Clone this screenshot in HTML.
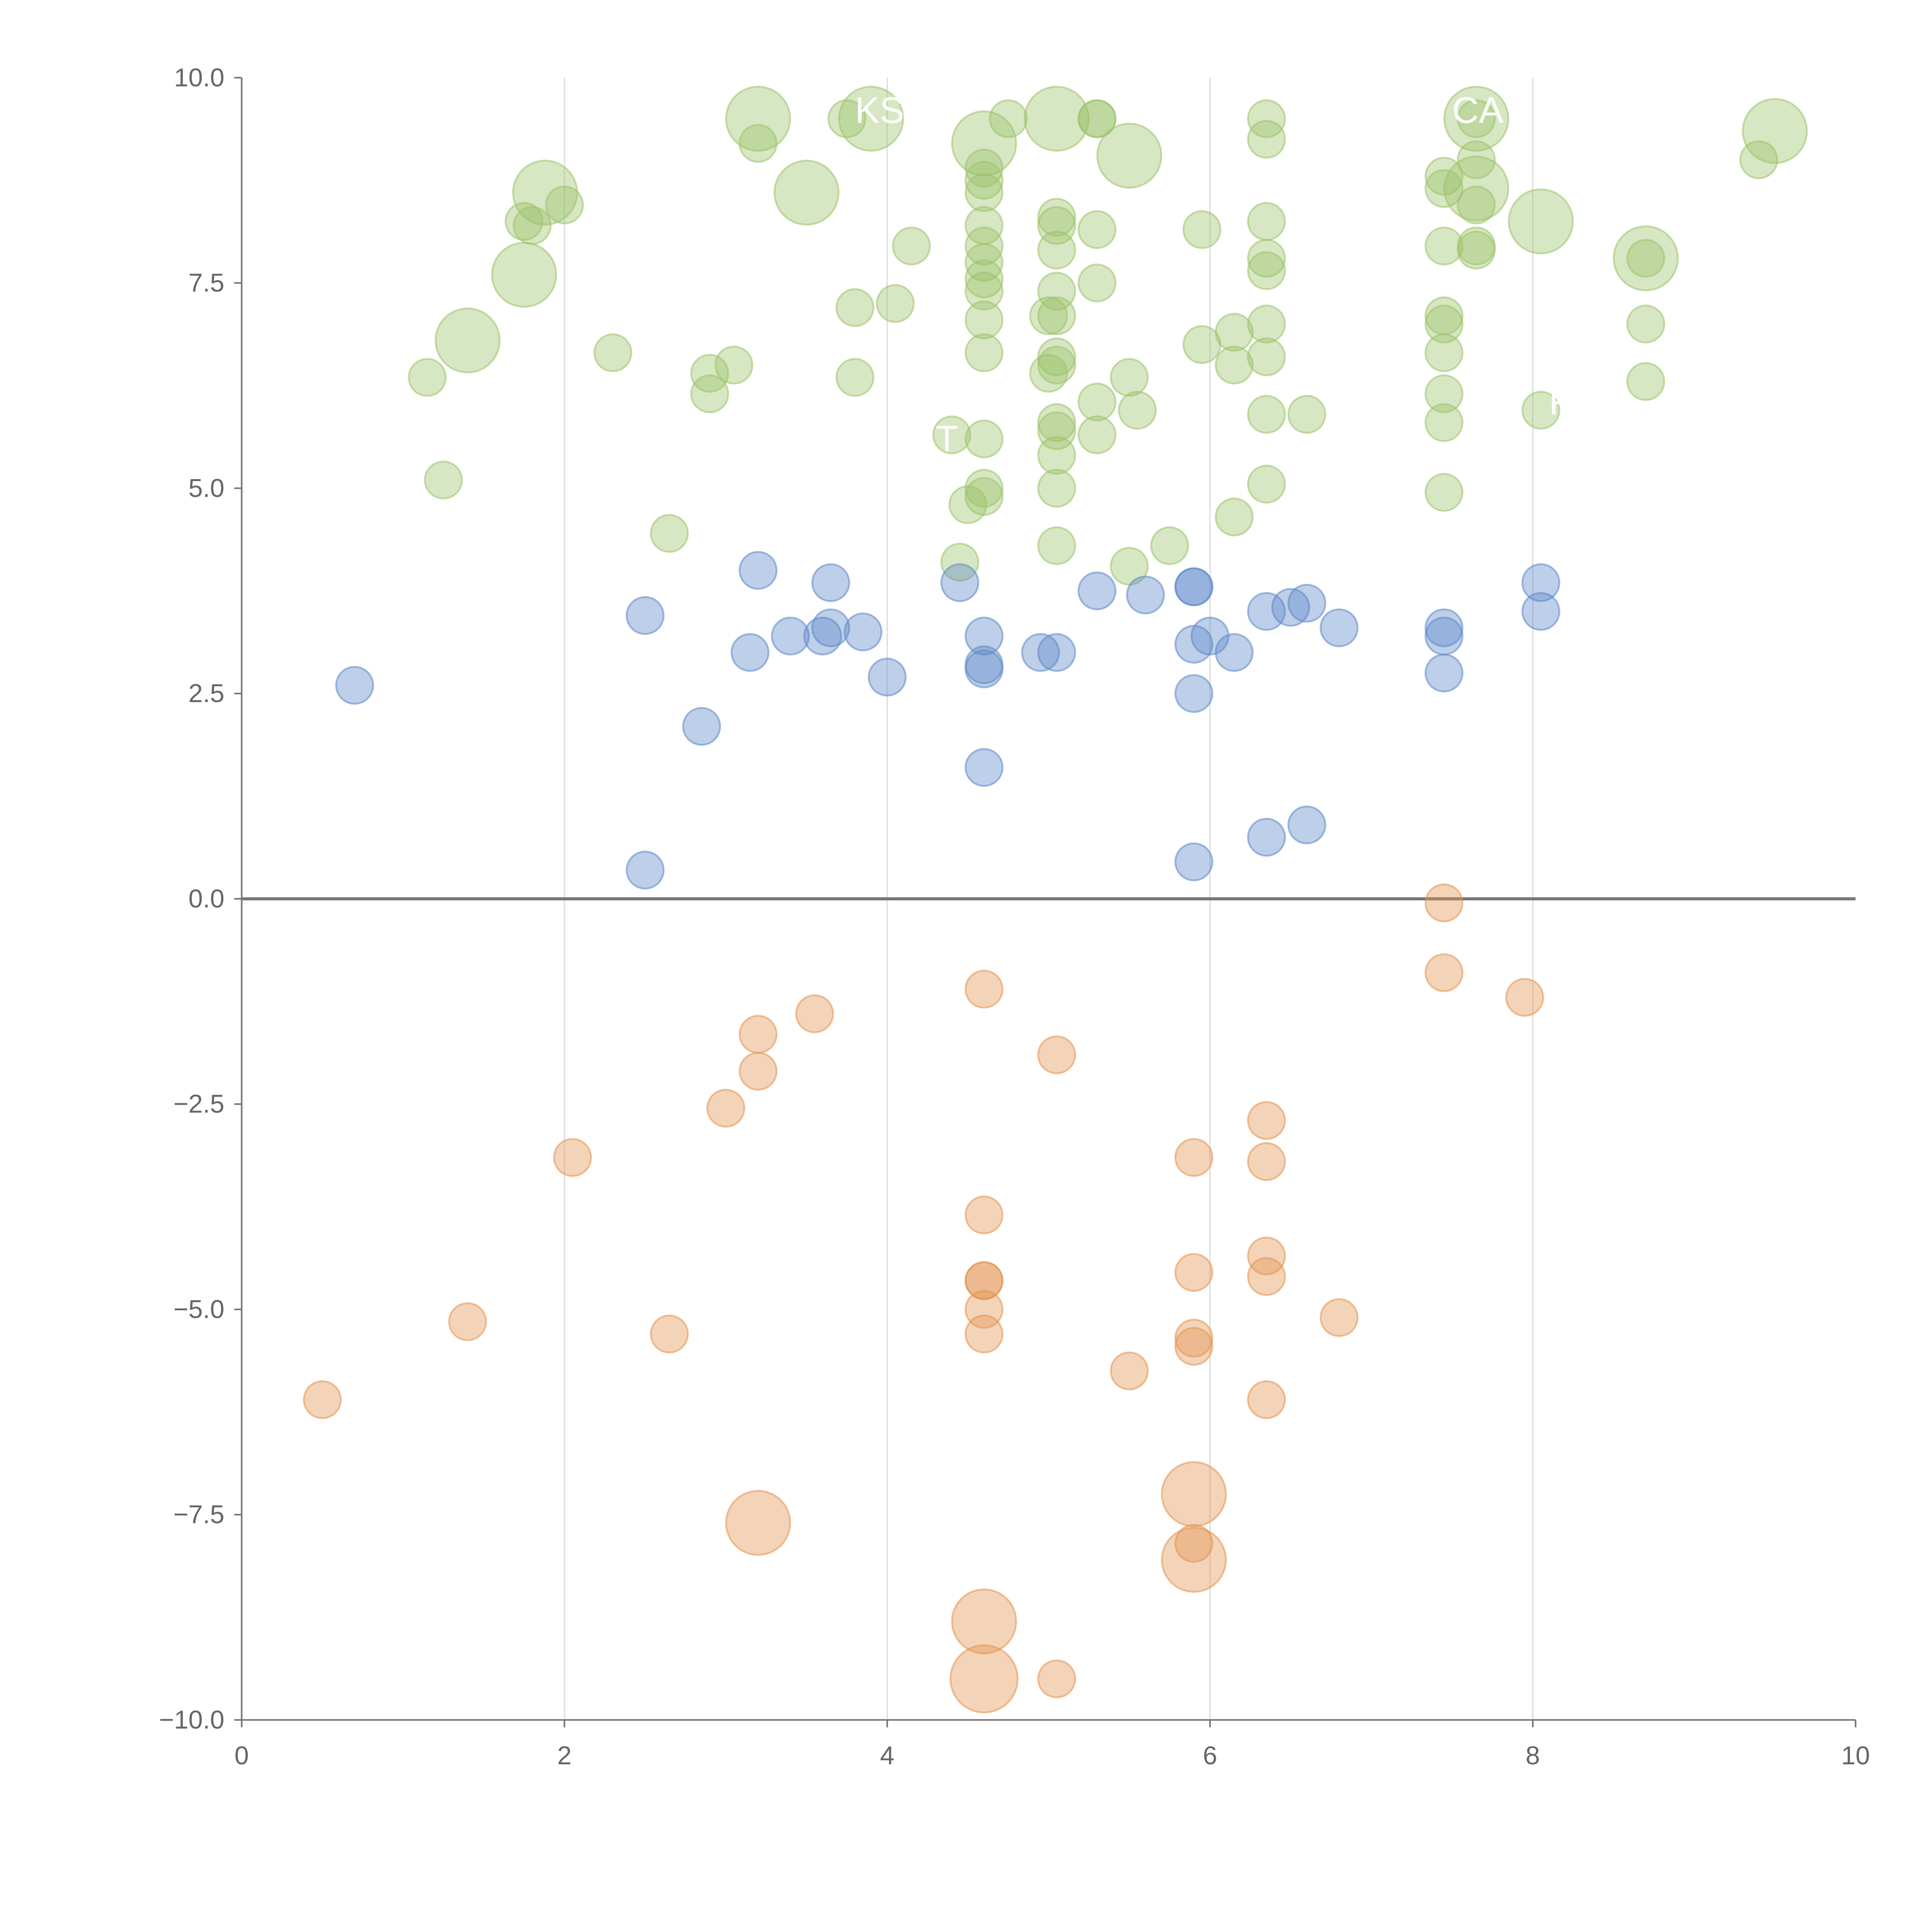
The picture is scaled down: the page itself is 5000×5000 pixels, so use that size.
<!DOCTYPE html>
<html><head><meta charset="utf-8">
<style>
html,body{margin:0;padding:0;background:#fff;}
svg{display:block;}
text{font-family:"Liberation Sans",sans-serif;}
</style></head>
<body>
<svg id="chart" width="5000" height="5000" viewBox="0 0 1567 1567" xmlns="http://www.w3.org/2000/svg">
<g id="grid"></g>
<g id="axes"></g>
<g id="marks"></g>
<g id="labels"></g>
</svg>
<script>
const greenX=[3.2,3.2,3.9,3.75,4.6,4.75,5.05,5.3,5.3,5.5,1.88,3.5,1.75,1.8,2.0,1.75,1.4,1.15,1.25,2.3,2.9,2.9,3.05,2.65,3.8,4.05,3.8,4.15,4.6,4.6,4.6,4.6,4.6,4.6,4.6,4.6,4.6,4.6,4.6,4.6,4.6,4.5,4.45,4.4,5.05,5.05,5.05,5.05,5.0,5.05,5.05,5.05,5.0,5.05,5.05,5.05,5.05,5.05,5.3,5.3,5.3,5.3,5.5,5.55,5.5,5.75,5.95,5.95,6.15,6.15,6.15,6.35,6.35,6.35,6.35,6.35,6.35,6.35,6.35,6.35,6.6,7.45,7.45,7.45,7.45,7.45,7.45,7.45,7.45,7.45,7.65,7.65,7.65,7.65,7.65,7.65,7.65,8.05,8.05,8.7,8.7,8.7,8.7,9.4,9.5];
const greenY=[9.5,9.2,9.5,9.5,9.2,9.5,9.5,9.5,9.5,9.05,8.6,8.6,8.25,8.2,8.45,7.6,6.8,6.35,5.1,6.65,6.4,6.15,6.5,4.45,7.2,7.25,6.35,7.95,8.9,8.75,8.6,8.2,7.95,7.75,7.55,7.4,7.05,6.65,5.6,5.0,4.9,4.8,4.1,5.65,8.3,8.2,7.9,7.4,7.1,7.1,6.6,6.5,6.4,5.8,5.7,5.4,5.0,4.3,8.15,7.5,6.05,5.65,6.35,5.95,4.05,4.3,8.15,6.75,6.9,6.5,4.65,9.5,9.25,8.25,7.8,7.65,7.0,6.6,5.9,5.05,5.9,8.8,8.65,7.95,7.1,7.0,6.65,6.15,5.8,4.95,9.5,9.5,9.0,8.65,8.45,7.95,7.9,8.25,5.95,7.8,7.8,7.0,6.3,9.0,9.35];
const greenS=[3,1,3,1,3,1,3,1,1,3,3,3,1,1,1,3,3,1,1,1,1,1,1,1,1,1,1,1,1,1,1,1,1,1,1,1,1,1,1,1,1,1,1,1,1,1,1,1,1,1,1,1,1,1,1,1,1,1,1,1,1,1,1,1,1,1,1,1,1,1,1,1,1,1,1,1,1,1,1,1,1,1,1,1,1,1,1,1,1,1,3,1,1,3,1,1,1,3,1,3,1,1,1,1,3];
const blueX=[0.7,2.5,2.5,2.85,3.15,3.2,3.4,3.6,3.65,3.65,3.85,4.0,4.45,4.6,4.6,4.6,4.6,4.95,5.05,5.3,5.6,5.9,5.9,5.9,5.9,5.9,6.0,6.15,6.35,6.35,6.5,6.6,6.6,6.8,7.45,7.45,7.45,8.05,8.05];
const blueY=[2.6,3.45,0.35,2.1,3.0,4.0,3.2,3.2,3.3,3.85,3.25,2.7,3.85,3.2,2.85,2.8,1.6,3.0,3.0,3.75,3.7,3.8,3.8,3.1,2.5,0.45,3.2,3.0,3.5,0.75,3.55,3.6,0.9,3.3,3.3,3.2,2.75,3.85,3.5];
const orangeX=[7.45,7.45,7.95,4.6,3.55,3.2,3.2,5.05,3.0,2.05,6.35,6.35,5.9,4.6,6.35,6.35,5.9,4.6,4.6,4.6,4.6,6.8,1.4,2.65,0.5,5.5,5.9,5.9,6.35,5.9,3.2,5.9,5.9,4.6,4.6,5.05];
const orangeY=[-0.05,-0.9,-1.2,-1.1,-1.4,-1.65,-2.1,-1.9,-2.55,-3.15,-2.7,-3.2,-3.15,-3.85,-4.35,-4.6,-4.55,-4.65,-4.65,-5.0,-5.3,-5.1,-5.15,-5.3,-6.1,-5.75,-5.35,-5.45,-6.1,-7.25,-7.6,-7.85,-8.05,-8.8,-9.5,-9.5];
const orangeS=[1,1,1,1,1,1,1,1,1,1,1,1,1,1,1,1,1,1,1,1,1,1,1,1,1,1,1,1,1,3,3,1,3,3,3.3,1];
const xTicks=[0,2,4,6,8,10];
const yTicks=[10,7.5,5,2.5,0,-2.5,-5,-7.5,-10];
const yTickLabels=["10.0","7.5","5.0","2.5","0.0","\u22122.5","\u22125.0","\u22127.5","\u221210.0"];

const NS="http://www.w3.org/2000/svg";
const X0=196,X1=1505,Y10=63,YM10=1395;
function sx(v){return X0+(v-0)/10*(X1-X0);}
function sy(v){return Y10+(10-v)/20*(YM10-Y10);}
function rad(s){return Math.sqrt(s)*15;}
function mk(tag,attrs,parent){const e=document.createElementNS(NS,tag);for(const k in attrs)e.setAttribute(k,attrs[k]);parent.appendChild(e);return e;}
const grid=document.getElementById('grid'),axes=document.getElementById('axes'),marks=document.getElementById('marks');

xTicks.forEach((t,i)=>{
  if(t>0&&t<10){const l=mk('line',{x1:sx(t),x2:sx(t),y1:sy(10),y2:sy(-10),stroke:'#dcdcdc','stroke-width':1},grid);
  
  }
  const tk=mk('line',{x1:sx(t),x2:sx(t),y1:sy(-10),y2:sy(-10)+6,stroke:'#777','stroke-width':1.3},axes);
  
  
  const tx=mk('text',{x:sx(t),y:sy(-10)+36,'text-anchor':'middle','font-size':21,fill:'#666'},axes);
  tx.textContent=t;
  
  
});
yTicks.forEach((t,i)=>{
  const tk=mk('line',{x1:X0-6,x2:X0,y1:sy(t),y2:sy(t),stroke:'#777','stroke-width':1.3},axes);
  
  
  const tx=mk('text',{x:X0-14,y:sy(t)+7,'text-anchor':'end','font-size':21,fill:'#666'},axes);
  tx.textContent=yTickLabels[i];
  
  
});
const ya=mk('line',{x1:X0,x2:X0,y1:sy(10),y2:sy(-10),stroke:'#777','stroke-width':1.3},axes);


const xa=mk('line',{x1:X0,x2:X1,y1:sy(-10),y2:sy(-10),stroke:'#777','stroke-width':1.3},axes);


const zl=mk('line',{x1:X0,x2:X1,y1:sy(0),y2:sy(0),stroke:'#777','stroke-width':2.5},axes);



function series(xs,ys,ss,color,name){
  xs.forEach((x,i)=>{
    const s=ss?ss[i]:1;
    const c=mk('circle',{cx:sx(x),cy:sy(ys[i]),r:rad(s),fill:color,'fill-opacity':0.4,stroke:color,'stroke-opacity':0.55,'stroke-width':1.5},marks);
    
    
  });
}
series(greenX,greenY,greenS,'#9cc26a','bubble-green');
series(blueX,blueY,null,'#5d88c7','bubble-blue');
series(orangeX,orangeY,orangeS,'#e39450','bubble-orange');

const labels=document.getElementById('labels');
[["KS",3.8,9.6],["CA",7.5,9.6],["AL",5.2,8.55],["T",4.3,5.6],["FL",8.1,6.05]].forEach(d=>{
  const t=mk('text',{x:sx(d[1]),y:sy(d[2])+10,'font-size':30,fill:'#fff'},labels);
  t.textContent=d[0];
  
  
});
</script>
</body></html>
